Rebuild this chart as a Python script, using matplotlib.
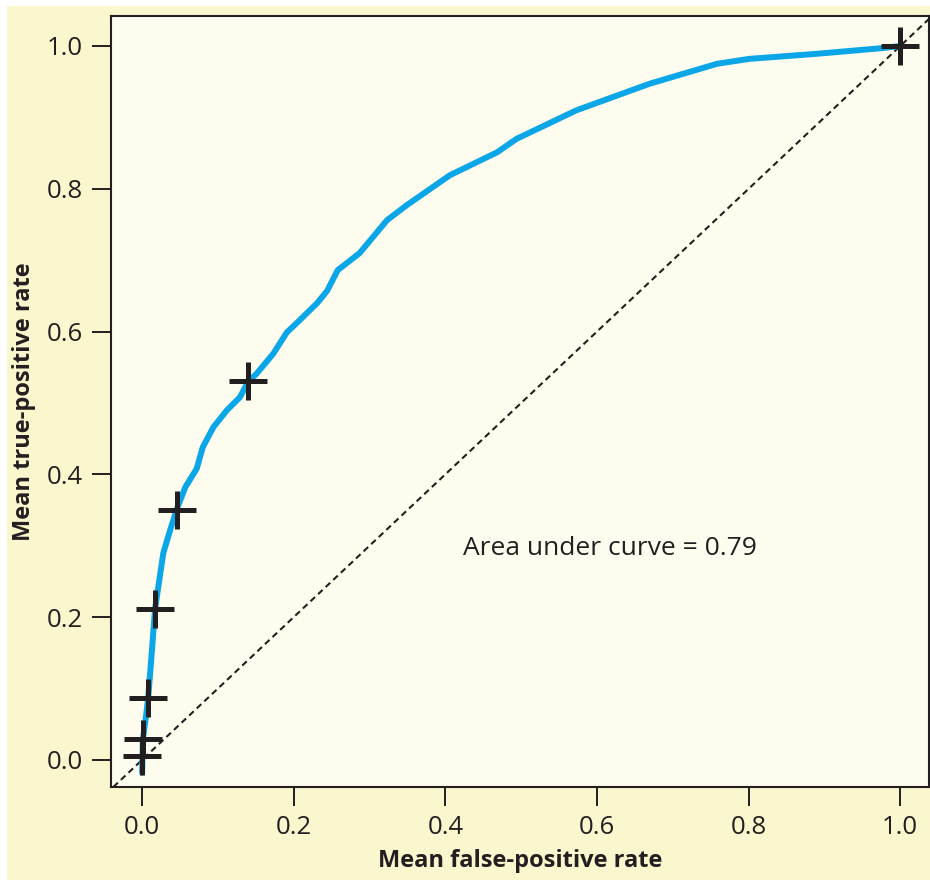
import matplotlib
matplotlib.use("Agg")
import matplotlib.pyplot as plt
from matplotlib.patches import Rectangle

# mean ROC curve
fpr = [0.0, 0.001, 0.005, 0.008, 0.013, 0.017, 0.021, 0.028, 0.037, 0.046,
       0.057, 0.072, 0.080, 0.094, 0.112, 0.129, 0.140, 0.151, 0.173, 0.191,
       0.204, 0.231, 0.244, 0.258, 0.287, 0.323, 0.349, 0.406, 0.468, 0.494,
       0.573, 0.669, 0.758, 0.801, 0.889, 0.976, 1.0]
tpr = [-0.018, 0.029, 0.06, 0.087, 0.154, 0.211, 0.240, 0.290, 0.322, 0.352,
       0.382, 0.408, 0.438, 0.466, 0.490, 0.508, 0.530, 0.541, 0.569, 0.599,
       0.612, 0.640, 0.657, 0.686, 0.710, 0.756, 0.777, 0.819, 0.851, 0.870,
       0.910, 0.947, 0.975, 0.982, 0.989, 0.997, 1.0]

# threshold markers
mark_x = [0.0, 0.001, 0.008, 0.017, 0.046, 0.140, 1.0]
mark_y = [0.006, 0.029, 0.087, 0.211, 0.350, 0.531, 1.0]

auc_text = "Area under curve = 0.79"
xticks = [0.0, 0.2, 0.4, 0.6, 0.8, 1.0]
yticks = [0.0, 0.2, 0.4, 0.6, 0.8, 1.0]

INK = "#231F20"
plt.rcParams["font.family"] = ["Open Sans", "DejaVu Sans"]

fig = plt.figure(figsize=(9.3, 8.8), dpi=100, facecolor="white")
fig.patches.append(Rectangle((0.007, 0.0), 0.993, 0.993, transform=fig.transFigure,
                             facecolor="#FAF6CD", edgecolor="none", zorder=-10))

ax = fig.add_axes([0.1194, 0.1057, 0.8796, 0.8761])
ax.set_facecolor("#FEFCEE")
ax.set_xlim(-0.041, 1.038)
ax.set_ylim(-0.038, 1.042)

ax.axline((0, 0), (1, 1), color=INK, lw=1.5, ls=(0, (3, 2)), zorder=1)
ax.plot(fpr, tpr, color="#0AA6E8", lw=4.3, solid_capstyle="round",
        solid_joinstyle="round", zorder=2)
ax.plot(mark_x, mark_y, ls="none", marker="+", ms=27, mew=3.6, color=INK, zorder=3)

ax.text(0.423, 0.296, auc_text, fontsize=19, color=INK, va="center", ha="left")

ax.set_xticks(xticks)
ax.set_yticks(yticks)
ax.set_xticklabels([f"{v:.1f}" for v in xticks])
ax.set_yticklabels([f"{v:.1f}" for v in yticks])
ax.tick_params(direction="out", length=14, width=1.4, colors=INK, labelsize=18.5, pad=6)
for s in ax.spines.values():
    s.set_linewidth(1.5)
    s.set_color(INK)

ax.set_xlabel("Mean false-positive rate", fontsize=17, fontweight="bold", color=INK, labelpad=7)
ax.set_ylabel("Mean true-positive rate", fontsize=17, fontweight="bold", color=INK, labelpad=8)

fig.savefig("out.png", dpi=100)
